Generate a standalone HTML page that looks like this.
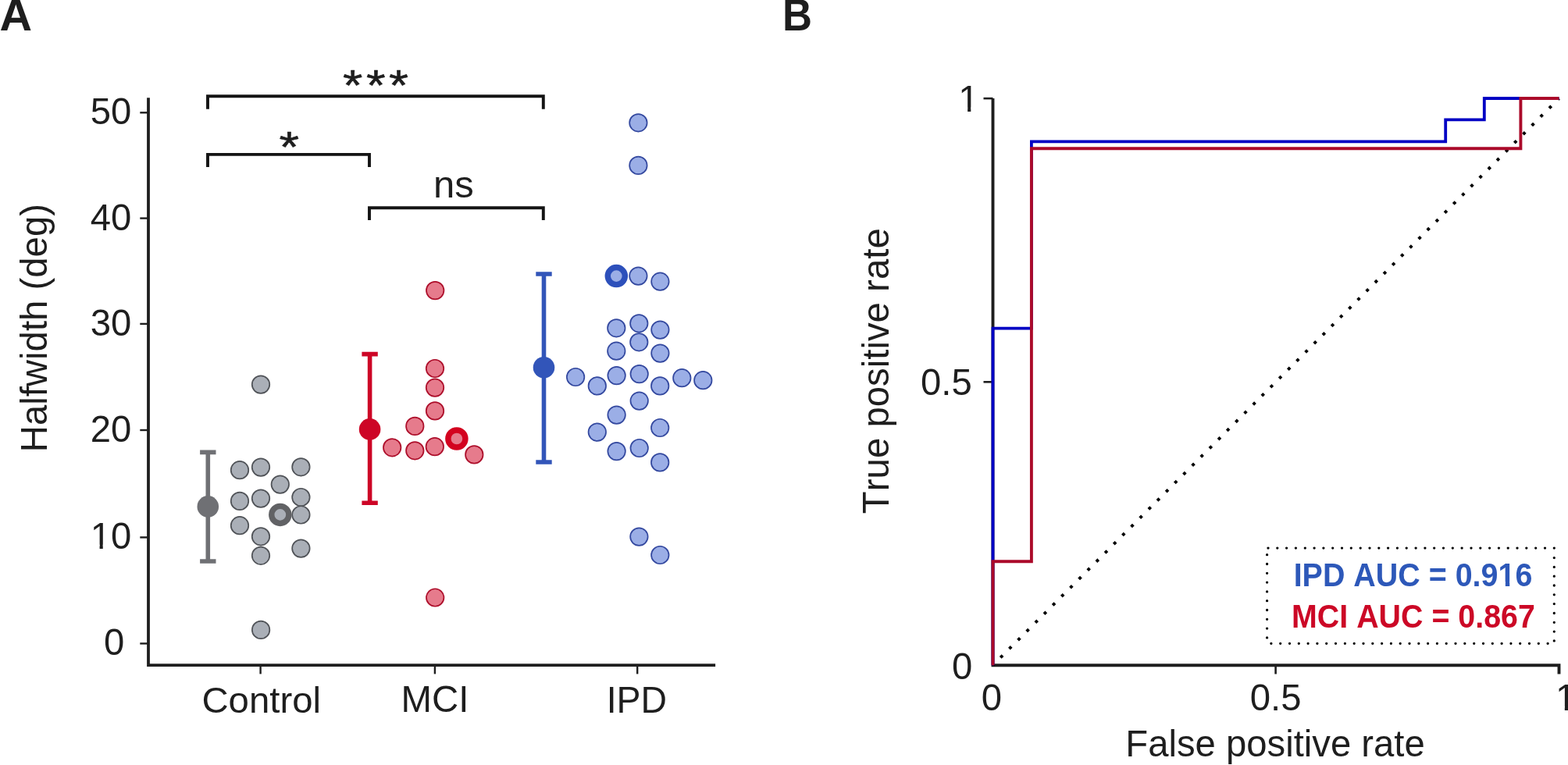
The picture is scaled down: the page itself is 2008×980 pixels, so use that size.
<!DOCTYPE html>
<html><head><meta charset="utf-8"><title>Figure</title>
<style>html,body{margin:0;padding:0;background:#fff;}svg{display:block;}text{font-kerning:none;}</style></head>
<body><svg width="2008" height="980" viewBox="0 0 2008 980" font-family="'Liberation Sans', Arial, sans-serif">
<defs><clipPath id="c0"><path clip-rule="evenodd" d="M-2000,-2000H4000V2000H-2000ZM2.75,-5.28H12.20V3.88H2.75ZM16.48,-5.28H25.55V3.88H16.48Z"/></clipPath><clipPath id="c1"><path clip-rule="evenodd" d="M-2000,-2000H4000V2000H-2000ZM2.75,-5.28H12.20V3.88H2.75ZM16.48,-5.28H25.55V3.88H16.48Z"/></clipPath><clipPath id="c2"><path clip-rule="evenodd" d="M-2000,-2000H4000V2000H-2000ZM2.75,-5.28H12.20V3.88H2.75ZM16.48,-5.28H25.55V3.88H16.48Z"/></clipPath><clipPath id="c3"><path clip-rule="evenodd" d="M-2000,-2000H4000V2000H-2000ZM278.08,-5.67H285.98V3.33H278.08ZM291.69,-5.67H299.06V3.33H291.69Z"/></clipPath></defs>
<rect width="2008" height="980" fill="#fff"/>
<path d="M190,125.3V852.1H916.1" fill="none" stroke="#1e1e1e" stroke-width="3.8" stroke-linejoin="miter"/>
<line x1="179.3" y1="144.3" x2="189" y2="144.3" stroke="#1e1e1e" stroke-width="2.4"/>
<line x1="179.3" y1="279.6" x2="189" y2="279.6" stroke="#1e1e1e" stroke-width="2.4"/>
<line x1="179.3" y1="414.9" x2="189" y2="414.9" stroke="#1e1e1e" stroke-width="2.4"/>
<line x1="179.3" y1="551.0" x2="189" y2="551.0" stroke="#1e1e1e" stroke-width="2.4"/>
<line x1="179.3" y1="688.4" x2="189" y2="688.4" stroke="#1e1e1e" stroke-width="2.4"/>
<line x1="179.3" y1="824.4" x2="189" y2="824.4" stroke="#1e1e1e" stroke-width="2.4"/>
<line x1="333.6" y1="853" x2="333.6" y2="863.4" stroke="#1e1e1e" stroke-width="2.4"/>
<line x1="556.9" y1="853" x2="556.9" y2="863.4" stroke="#1e1e1e" stroke-width="2.4"/>
<line x1="816.2" y1="853" x2="816.2" y2="863.4" stroke="#1e1e1e" stroke-width="2.4"/>
<path d="M266,139.7V123.2H695.8V139.7" fill="none" stroke="#141414" stroke-width="3.9"/>
<path d="M266,214V197.9H473V214" fill="none" stroke="#141414" stroke-width="3.9"/>
<path d="M473,282V266.3H695.8V282" fill="none" stroke="#141414" stroke-width="3.9"/>
<path d="M256.1,579.4H276.5M266.3,579.4V719.0M256.1,719.0H276.5" fill="none" stroke="#6f7074" stroke-width="5.6"/>
<circle cx="266.3" cy="648.9" r="13.8" fill="#6f7074"/>
<circle cx="334" cy="492.6" r="11.25" fill="#aaafb7" stroke="#4f5257" stroke-width="1.7"/>
<circle cx="307" cy="602.2" r="11.25" fill="#aaafb7" stroke="#4f5257" stroke-width="1.7"/>
<circle cx="334" cy="598.6" r="11.25" fill="#aaafb7" stroke="#4f5257" stroke-width="1.7"/>
<circle cx="385.4" cy="598.3" r="11.25" fill="#aaafb7" stroke="#4f5257" stroke-width="1.7"/>
<circle cx="358.8" cy="620.6" r="11.25" fill="#aaafb7" stroke="#4f5257" stroke-width="1.7"/>
<circle cx="307" cy="641.9" r="11.25" fill="#aaafb7" stroke="#4f5257" stroke-width="1.7"/>
<circle cx="334" cy="638.6" r="11.25" fill="#aaafb7" stroke="#4f5257" stroke-width="1.7"/>
<circle cx="385.4" cy="637" r="11.25" fill="#aaafb7" stroke="#4f5257" stroke-width="1.7"/>
<circle cx="385.4" cy="659.5" r="11.25" fill="#aaafb7" stroke="#4f5257" stroke-width="1.7"/>
<circle cx="307" cy="673.2" r="11.25" fill="#aaafb7" stroke="#4f5257" stroke-width="1.7"/>
<circle cx="334" cy="687.3" r="11.25" fill="#aaafb7" stroke="#4f5257" stroke-width="1.7"/>
<circle cx="385.4" cy="702.6" r="11.25" fill="#aaafb7" stroke="#4f5257" stroke-width="1.7"/>
<circle cx="334" cy="711.8" r="11.25" fill="#aaafb7" stroke="#4f5257" stroke-width="1.7"/>
<circle cx="334.1" cy="806.9" r="11.25" fill="#aaafb7" stroke="#4f5257" stroke-width="1.7"/>
<circle cx="358.8" cy="659.4" r="11.05" fill="#aaafb7" stroke="#616265" stroke-width="7.4"/>
<path d="M463.4,453.6H483.8M473.6,453.6V644.2M463.4,644.2H483.8" fill="none" stroke="#cd0526" stroke-width="5.6"/>
<circle cx="473.6" cy="549.9" r="13.8" fill="#cd0526"/>
<circle cx="557.2" cy="372.1" r="11.25" fill="#e67b8c" stroke="#ad0e2a" stroke-width="1.7"/>
<circle cx="557" cy="472" r="11.25" fill="#e67b8c" stroke="#ad0e2a" stroke-width="1.7"/>
<circle cx="557" cy="496.6" r="11.25" fill="#e67b8c" stroke="#ad0e2a" stroke-width="1.7"/>
<circle cx="557" cy="526.4" r="11.25" fill="#e67b8c" stroke="#ad0e2a" stroke-width="1.7"/>
<circle cx="531.3" cy="545.9" r="11.25" fill="#e67b8c" stroke="#ad0e2a" stroke-width="1.7"/>
<circle cx="502.2" cy="573.3" r="11.25" fill="#e67b8c" stroke="#ad0e2a" stroke-width="1.7"/>
<circle cx="531.3" cy="577.3" r="11.25" fill="#e67b8c" stroke="#ad0e2a" stroke-width="1.7"/>
<circle cx="556.8" cy="572.2" r="11.25" fill="#e67b8c" stroke="#ad0e2a" stroke-width="1.7"/>
<circle cx="607.3" cy="582.4" r="11.25" fill="#e67b8c" stroke="#ad0e2a" stroke-width="1.7"/>
<circle cx="557.2" cy="765.5" r="11.25" fill="#e67b8c" stroke="#ad0e2a" stroke-width="1.7"/>
<circle cx="584.9" cy="562.0" r="11.05" fill="#e67b8c" stroke="#d3021f" stroke-width="7.4"/>
<path d="M686.3,351.0H706.7M696.5,351.0V592.0M686.3,592.0H706.7" fill="none" stroke="#3255b9" stroke-width="5.6"/>
<circle cx="696.5" cy="470.8" r="13.8" fill="#3255b9"/>
<circle cx="817.4" cy="157.3" r="11.25" fill="#9baee6" stroke="#33489f" stroke-width="1.7"/>
<circle cx="817.4" cy="211.9" r="11.25" fill="#9baee6" stroke="#33489f" stroke-width="1.7"/>
<circle cx="817.4" cy="353.6" r="11.25" fill="#9baee6" stroke="#33489f" stroke-width="1.7"/>
<circle cx="845.4" cy="360.7" r="11.25" fill="#9baee6" stroke="#33489f" stroke-width="1.7"/>
<circle cx="789.3" cy="420.3" r="11.25" fill="#9baee6" stroke="#33489f" stroke-width="1.7"/>
<circle cx="818.3" cy="414.3" r="11.25" fill="#9baee6" stroke="#33489f" stroke-width="1.7"/>
<circle cx="845.4" cy="422.6" r="11.25" fill="#9baee6" stroke="#33489f" stroke-width="1.7"/>
<circle cx="789.3" cy="449.7" r="11.25" fill="#9baee6" stroke="#33489f" stroke-width="1.7"/>
<circle cx="818.3" cy="438.3" r="11.25" fill="#9baee6" stroke="#33489f" stroke-width="1.7"/>
<circle cx="845.4" cy="452.6" r="11.25" fill="#9baee6" stroke="#33489f" stroke-width="1.7"/>
<circle cx="737.1" cy="483.0" r="11.25" fill="#9baee6" stroke="#33489f" stroke-width="1.7"/>
<circle cx="764.8" cy="494.4" r="11.25" fill="#9baee6" stroke="#33489f" stroke-width="1.7"/>
<circle cx="789.6" cy="481.1" r="11.25" fill="#9baee6" stroke="#33489f" stroke-width="1.7"/>
<circle cx="818.7" cy="479.1" r="11.25" fill="#9baee6" stroke="#33489f" stroke-width="1.7"/>
<circle cx="845.2" cy="494.4" r="11.25" fill="#9baee6" stroke="#33489f" stroke-width="1.7"/>
<circle cx="873.3" cy="484.2" r="11.25" fill="#9baee6" stroke="#33489f" stroke-width="1.7"/>
<circle cx="900.3" cy="487.2" r="11.25" fill="#9baee6" stroke="#33489f" stroke-width="1.7"/>
<circle cx="818.7" cy="513.6" r="11.25" fill="#9baee6" stroke="#33489f" stroke-width="1.7"/>
<circle cx="789.6" cy="531.6" r="11.25" fill="#9baee6" stroke="#33489f" stroke-width="1.7"/>
<circle cx="764.8" cy="553.6" r="11.25" fill="#9baee6" stroke="#33489f" stroke-width="1.7"/>
<circle cx="845.2" cy="548.0" r="11.25" fill="#9baee6" stroke="#33489f" stroke-width="1.7"/>
<circle cx="789.6" cy="578.1" r="11.25" fill="#9baee6" stroke="#33489f" stroke-width="1.7"/>
<circle cx="818.7" cy="574.0" r="11.25" fill="#9baee6" stroke="#33489f" stroke-width="1.7"/>
<circle cx="845.2" cy="592.4" r="11.25" fill="#9baee6" stroke="#33489f" stroke-width="1.7"/>
<circle cx="818.4" cy="687.6" r="11.25" fill="#9baee6" stroke="#33489f" stroke-width="1.7"/>
<circle cx="845.3" cy="711.0" r="11.25" fill="#9baee6" stroke="#33489f" stroke-width="1.7"/>
<circle cx="789.3" cy="353.6" r="11.05" fill="#9baee6" stroke="#2d50bb" stroke-width="7.4"/>
<path d="M1271.5,126.0V852.2H1996.5V863.5" fill="none" stroke="#1e1e1e" stroke-width="3.9" stroke-linejoin="miter"/>
<line x1="1259.5" y1="126.1" x2="1271.5" y2="126.1" stroke="#1e1e1e" stroke-width="2.6"/>
<line x1="1259.5" y1="489.3" x2="1271.5" y2="489.3" stroke="#1e1e1e" stroke-width="2.6"/>
<line x1="1633.6" y1="852.2" x2="1633.6" y2="863.5" stroke="#1e1e1e" stroke-width="2.6"/>
<line x1="1271.5" y1="852.2" x2="1996.5" y2="126.0" stroke="#000" stroke-width="3.9" stroke-dasharray="3.9 11.887" stroke-dashoffset="1.95"/>
<path d="M1271.5,852.2V420.7H1320.9V181.4H1851.2V153.3H1900.8V126.0H1996.5" fill="none" stroke="#0000c4" stroke-width="3.8" stroke-linejoin="miter"/>
<path d="M1271.5,852.2V719.2H1320.9V190.2H1947.4V126.0H1996.5" fill="none" stroke="#ab0a2a" stroke-width="3.9" stroke-linejoin="miter"/>
<path d="M1624.0,702.1h0M1635.8,702.1h0M1647.6,702.1h0M1659.4,702.1h0M1671.3,702.1h0M1683.1,702.1h0M1694.9,702.1h0M1706.7,702.1h0M1718.5,702.1h0M1730.3,702.1h0M1742.2,702.1h0M1754.0,702.1h0M1765.8,702.1h0M1777.6,702.1h0M1789.4,702.1h0M1801.2,702.1h0M1813.1,702.1h0M1824.9,702.1h0M1836.7,702.1h0M1848.5,702.1h0M1860.3,702.1h0M1872.1,702.1h0M1884.0,702.1h0M1895.8,702.1h0M1907.6,702.1h0M1919.4,702.1h0M1931.2,702.1h0M1943.0,702.1h0M1954.8,702.1h0M1966.7,702.1h0M1978.5,702.1h0M1990.3,702.1h0M1990.3,714.6h0M1990.3,726.4h0M1990.3,738.2h0M1990.3,750.0h0M1990.3,761.8h0M1990.3,773.6h0M1990.3,785.5h0M1990.3,797.3h0M1990.3,809.1h0M1990.3,820.9h0M1627.9,824.3h0M1639.7,824.3h0M1651.5,824.3h0M1663.3,824.3h0M1675.1,824.3h0M1686.9,824.3h0M1698.7,824.3h0M1710.5,824.3h0M1722.4,824.3h0M1734.2,824.3h0M1746.0,824.3h0M1757.8,824.3h0M1769.6,824.3h0M1781.4,824.3h0M1793.2,824.3h0M1805.0,824.3h0M1816.8,824.3h0M1828.6,824.3h0M1840.4,824.3h0M1852.2,824.3h0M1864.0,824.3h0M1875.8,824.3h0M1887.7,824.3h0M1899.5,824.3h0M1911.3,824.3h0M1923.1,824.3h0M1934.9,824.3h0M1946.7,824.3h0M1958.5,824.3h0M1970.3,824.3h0M1982.1,824.3h0M1622.6,710.7h0M1622.6,722.5h0M1622.6,734.3h0M1622.6,746.1h0M1622.6,757.9h0M1622.6,769.7h0M1622.6,781.5h0M1622.6,793.3h0M1622.6,805.1h0M1622.6,816.9h0" fill="none" stroke="#000" stroke-width="3.3" stroke-linecap="round"/>
<text transform="translate(-0.43 39.15) scale(0.9927 1)" font-size="58.00" font-weight="bold" fill="#1e1e1e">A</text>
<text transform="translate(1001.92 39.30) scale(0.9073 1)" font-size="58.00" font-weight="bold" fill="#1e1e1e">B</text>
<text transform="translate(115.70 158.58) scale(0.9750 1)" font-size="48.50" fill="#1e1e1e">50</text>
<text transform="translate(115.70 294.58) scale(0.9750 1)" font-size="48.50" fill="#1e1e1e">40</text>
<text transform="translate(115.70 429.98) scale(0.9750 1)" font-size="48.50" fill="#1e1e1e">30</text>
<text transform="translate(115.70 566.03) scale(0.9750 1)" font-size="48.50" fill="#1e1e1e">20</text>
<text transform="translate(115.70 703.08) scale(0.9750 1)" font-size="48.50" fill="#1e1e1e" clip-path="url(#c0)">10</text>
<text transform="translate(133.01 838.53) scale(0.9750 1)" font-size="48.50" fill="#1e1e1e">0</text>
<text transform="translate(59.90 579.29) rotate(-90)" font-size="47.34" fill="#1e1e1e">Halfwidth (deg)</text>
<text transform="translate(258.43 912.53) scale(1.0036 1)" font-size="47.16" fill="#1e1e1e">Control</text>
<text transform="translate(513.51 912.03) scale(1.0048 1)" font-size="47.18" fill="#1e1e1e">MCI</text>
<text transform="translate(776.73 912.50) scale(0.9631 1)" font-size="48.12" fill="#1e1e1e">IPD</text>
<text transform="translate(554.97 252.51) scale(1.0114 1)" font-size="48.50" fill="#1e1e1e">ns</text>
<text transform="translate(1227.23 142.88) scale(0.9750 1)" font-size="48.50" fill="#1e1e1e" clip-path="url(#c1)">1</text>
<text transform="translate(1179.06 506.03) scale(0.9750 1)" font-size="48.50" fill="#1e1e1e">0.5</text>
<text transform="translate(1219.11 869.98) scale(0.9750 1)" font-size="48.50" fill="#1e1e1e">0</text>
<text transform="translate(1256.66 910.43) scale(0.9750 1)" font-size="48.50" fill="#1e1e1e">0</text>
<text transform="translate(1600.79 910.33) scale(0.9750 1)" font-size="48.50" fill="#1e1e1e">0.5</text>
<text transform="translate(1991.91 910.33) scale(0.9750 1)" font-size="48.50" fill="#1e1e1e" clip-path="url(#c2)">1</text>
<text transform="translate(1138.30 658.15) rotate(-90)" font-size="47.36" fill="#1e1e1e">True positive rate</text>
<text transform="translate(1441.32 969.00)" font-size="47.26" fill="#1e1e1e">False positive rate</text>
<text transform="translate(1656.64 750.90) scale(0.9483 1)" font-size="41.60" font-weight="bold" fill="#2d58b9" clip-path="url(#c3)">IPD AUC = 0.916</text>
<text transform="translate(1654.04 803.60) scale(0.9464 1)" font-size="41.60" font-weight="bold" fill="#cc0826">MCI AUC = 0.867</text>
<text stroke="#1e1e1e" stroke-width="0.55" stroke-linejoin="round" transform="translate(357.39 207.35) scale(1.1979 1)" font-size="54.86" fill="#1e1e1e">*</text>
<text stroke="#1e1e1e" stroke-width="0.55" stroke-linejoin="round" transform="translate(439.10 127.95) scale(1.1875 1)" font-size="54.86" fill="#1e1e1e">*</text>
<text stroke="#1e1e1e" stroke-width="0.55" stroke-linejoin="round" transform="translate(469.03 127.95) scale(1.1562 1)" font-size="54.86" fill="#1e1e1e">*</text>
<text stroke="#1e1e1e" stroke-width="0.55" stroke-linejoin="round" transform="translate(498.01 127.95) scale(1.1719 1)" font-size="54.86" fill="#1e1e1e">*</text>
</svg></body></html>
